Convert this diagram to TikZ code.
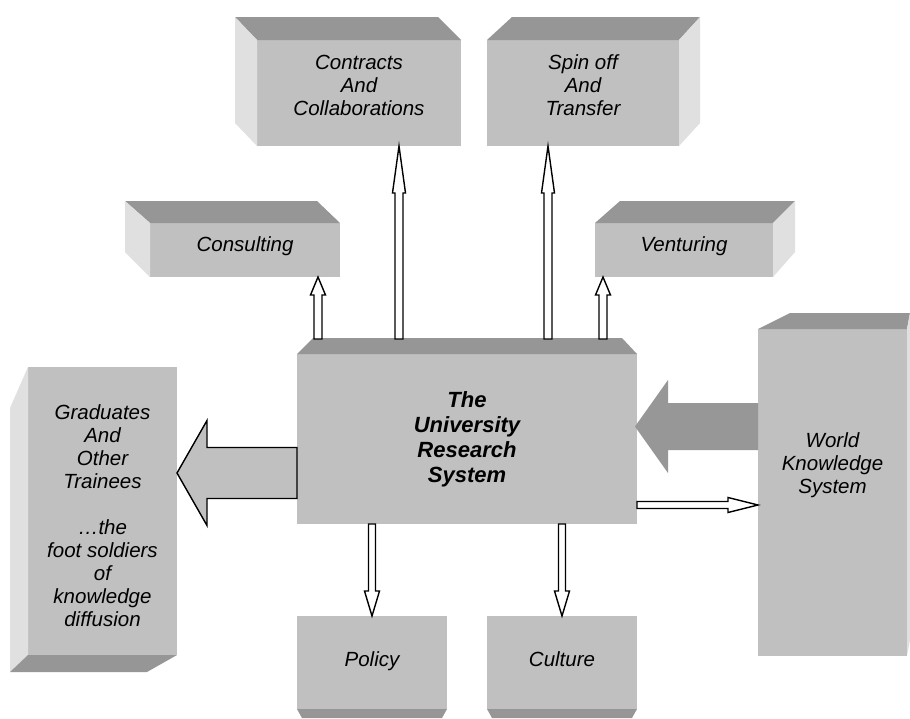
\documentclass[tikz,border=0pt]{standalone}
\usepackage{fontspec}
\setmainfont{Liberation Sans}
\usetikzlibrary{calc}

\definecolor{facegray}{HTML}{C0C0C0}
\definecolor{topgray}{HTML}{969696}
\definecolor{sidegray}{HTML}{E0E0E0}
\definecolor{flowgray}{HTML}{979797}

% Block arrow from tail #2 to tip #3 drawn with style #1;
% #4 half shaft width, #5 half head width, #6 head length
\newcommand\blockarrow[6]{%
  \coordinate (ba-h) at ($(#3)!#6!(#2)$);
  \path[#1] ($(#2)!#4!90:(#3)$) -- ($(ba-h)!#4!90:(#3)$) -- ($(ba-h)!#5!90:(#3)$)
    -- (#3) -- ($(ba-h)!#5!-90:(#3)$) -- ($(ba-h)!#4!-90:(#3)$)
    -- ($(#2)!#4!-90:(#3)$) -- cycle;}

\begin{document}
\begin{tikzpicture}[x=0.5pt,y=-0.5pt,
  face/.style={fill=facegray, draw=none, inner sep=0pt, outer sep=0pt},
  topface/.style={fill=topgray},
  sideface/.style={fill=sidegray},
  lbl/.style={align=center, inner sep=0pt, text=black,
    font=\fontsize{10.25}{11.5}\selectfont\itshape},
  lblbold/.style={lbl, font=\fontsize{11}{12.5}\selectfont\bfseries\itshape},
  hollow/.style={fill=white, draw=black, line width=0.7pt, line join=miter},
  fatarrow/.style={fill=facegray, draw=black, line width=0.7pt, line join=miter},
  flowfill/.style={fill=flowgray, draw=none}]

\fill[white] (0,0) rectangle (910,718);
\useasboundingbox (0,0) rectangle (910,718);

% front faces
\node[face, minimum width=102pt, minimum height=53pt] (contracts) at (359,93) {};
\node[face, minimum width=96pt, minimum height=53pt] (spin) at (583,93) {};
\node[face, minimum width=95pt, minimum height=27pt] (consult) at (245,250) {};
\node[face, minimum width=89pt, minimum height=27pt] (venture) at (684,250) {};
\node[face, minimum width=170pt, minimum height=85pt] (uni) at (467,439) {};
\node[face, minimum width=74.5pt, minimum height=144pt] (grad) at (102.5,511) {};
\node[face, minimum width=74.5pt, minimum height=163.5pt] (world) at (832.5,492.5) {};
\node[face, minimum width=75pt, minimum height=46.5pt] (policy) at (372,662.5) {};
\node[face, minimum width=75pt, minimum height=46.5pt] (culture) at (562,662.5) {};

% extruded faces
\fill[topface] (contracts.north west) -- (contracts.north east) -- ++(-23,-23)
  -- ($(contracts.north west)+(-22,-23)$) -- cycle;
\fill[sideface] (contracts.south west) -- (contracts.north west) -- ++(-22,-23)
  -- ++(0,106) -- cycle;

\fill[topface] (spin.north west) -- (spin.north east) -- ++(21,-23)
  -- ($(spin.north west)+(25,-23)$) -- cycle;
\fill[sideface] (spin.north east) -- ++(21,-23) -- ++(0,106) -- (spin.south east) -- cycle;

\fill[topface] (consult.north west) -- (consult.north east) -- ++(-23,-22)
  -- ($(consult.north west)+(-25,-22)$) -- cycle;
\fill[sideface] (consult.south west) -- (consult.north west) -- ++(-25,-22)
  -- ++(0,51) -- cycle;

\fill[topface] (venture.north west) -- (venture.north east) -- ++(22,-22)
  -- ($(venture.north west)+(25,-22)$) -- cycle;
\fill[sideface] (venture.north east) -- ++(22,-22) -- ++(0,51) -- (venture.south east) -- cycle;

\fill[topface] (uni.north west) -- (uni.north east) -- ++(-15,-16)
  -- ($(uni.north west)+(16,-16)$) -- cycle;

\fill[sideface] (grad.north west) -- (grad.south west) -- ++(-18,17)
  -- ($(grad.north west)+(-18,41)$) -- cycle;
\fill[topface] (grad.south west) -- (grad.south east) -- ++(-30,17)
  -- ($(grad.south west)+(-18,17)$) -- cycle;

\fill[topface] (world.north west) -- (world.north east) -- ++(3,-16)
  -- ($(world.north west)+(32,-16)$) -- cycle;
\fill[sideface] (world.north east) -- ++(3,-16) -- ++(0,327) -- (world.south east) -- cycle;

\fill[topface] (policy.south west) -- (policy.south east) -- ++(-5,9)
  -- ($(policy.south west)+(5,9)$) -- cycle;
\fill[topface] (culture.south west) -- (culture.south east) -- ++(-5,9)
  -- ($(culture.south west)+(5,9)$) -- cycle;

% labels
\node[lbl] (contracts-t) at ($(contracts.center)+(0,-8)$) {Contracts\\And\\Collaborations};
\node[lbl] (spin-t) at ($(spin.center)+(0,-8)$) {Spin off\\And\\Transfer};
\node[lbl, anchor=base] (consult-t) at ($(consult.center)+(0,1)$) {Consulting};
\node[lbl, anchor=base] (venture-t) at ($(venture.center)+(0,1)$) {Venturing};
\node[lblbold] (uni-t) at (uni.center) {The\\University\\Research\\System};
\node[lbl] (grad-t) at ($(grad.center)+(0,5)$)
  {Graduates\\And\\Other\\Trainees\\[11.5pt]…the\\foot soldiers\\of\\knowledge\\diffusion};
\node[lbl] (world-t) at ($(world.center)+(0,-27)$) {World\\Knowledge\\System};
\node[lbl, anchor=base] (policy-t) at ($(policy.center)+(0,3.5)$) {Policy};
\node[lbl, anchor=base] (culture-t) at ($(culture.center)+(0,3.5)$) {Culture};

% connector end points on the research system
\coordinate (up1) at ($(uni.north west)+(21,-15)$);
\coordinate (up2) at ($(uni.north west)+(102,-15)$);
\coordinate (up3) at ($(uni.north west)+(251,-15)$);
\coordinate (up4) at ($(uni.north west)+(306,-15)$);
\coordinate (dn1) at ($(uni.south west)+(75,0)$);
\coordinate (dn2) at ($(uni.south west)+(265,0)$);
\coordinate (rt1) at ($(uni.south east)+(0,-19)$);
\coordinate (lf1) at ($(uni.west)+(0,34)$);
\coordinate (wk1) at ($(world.west)+(0,-66)$);
\coordinate (wktip) at ($(wk1 -| uni.east)+(-2,0)$);

% connectors
\blockarrow{hollow}{up1}{up1 |- consult.south}{2pt}{3.75pt}{9pt}
\blockarrow{hollow}{up2}{up2 |- contracts.south}{2pt}{3.25pt}{23.5pt}
\blockarrow{hollow}{up3}{up3 |- spin.south}{2pt}{3.25pt}{23.5pt}
\blockarrow{hollow}{up4}{up4 |- venture.south}{2pt}{3.75pt}{9pt}
\blockarrow{hollow}{dn1}{dn1 |- policy.north}{1.75pt}{3.75pt}{12.5pt}
\blockarrow{hollow}{dn2}{dn2 |- culture.north}{1.75pt}{3.75pt}{12.5pt}
\blockarrow{hollow}{rt1}{rt1 -| world.west}{1.75pt}{3.75pt}{15pt}
\blockarrow{fatarrow}{lf1}{lf1 -| grad.east}{12.75pt}{26.25pt}{15pt}
\blockarrow{flowfill}{wk1}{wktip}{11.75pt}{23.25pt}{16.5pt}

\end{tikzpicture}
\end{document}
